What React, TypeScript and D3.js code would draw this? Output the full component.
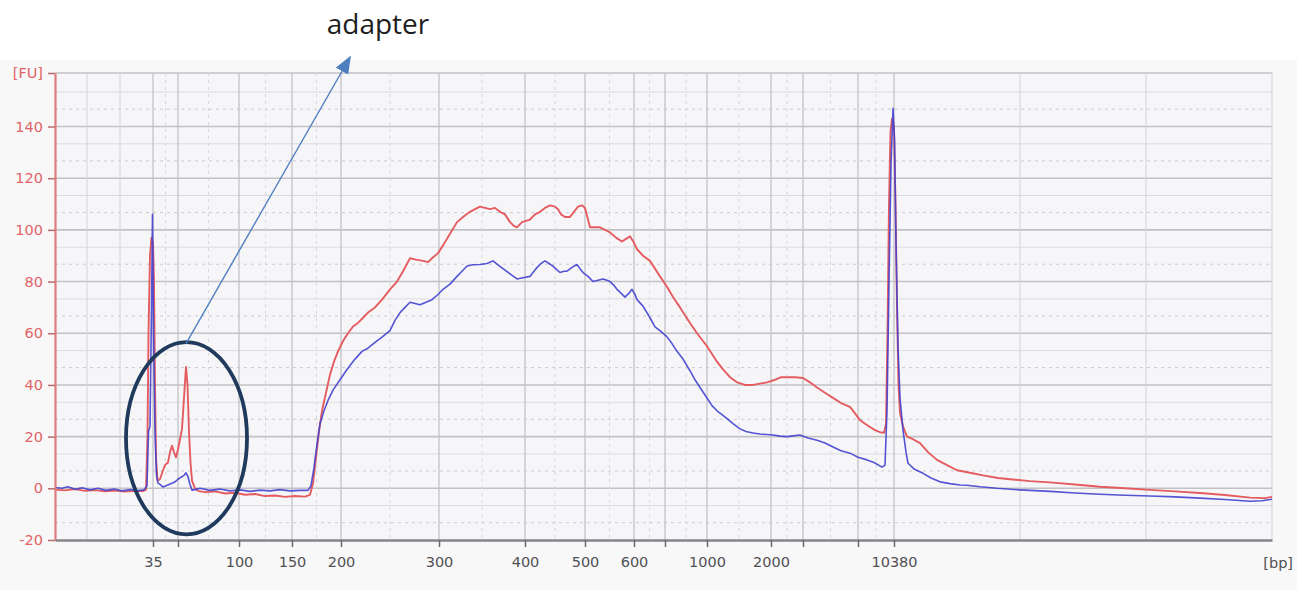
import React, { useEffect, useRef } from 'react';
import * as d3 from 'd3';

// migration time (s) vs fluorescence (FU)
const sample1: [number, number][] = [
  [17.5, -0.5], [18.5, -0.8], [19.5, -0.3], [20.5, -1.0], [21.5, -0.7], [22.5, -1.2], [23.5, -0.9],
  [24.5, -1.3], [25.5, -1.0], [26.3, -1.1], [26.6, -0.5], [26.75, 20], [26.85, 60], [27.0, 90],
  [27.15, 97], [27.3, 95], [27.4, 80], [27.5, 40], [27.6, 12], [27.75, 3], [28.0, 3.5], [28.3, 7], [28.5, 9],
  [28.8, 10], [29.0, 14], [29.2, 16.5], [29.4, 14], [29.6, 12], [29.8, 15], [30.0, 19], [30.2, 23],
  [30.4, 35], [30.6, 47], [30.75, 40], [30.9, 22], [31.05, 10], [31.2, 3], [31.5, 0], [31.8, -1],
  [32.5, -1.5], [33.5, -1.2], [34.5, -2], [35.5, -1.7], [36.5, -2.5], [37.5, -2.2], [38.5, -3],
  [39.5, -2.8], [40.5, -3.3], [41.5, -3], [42.5, -3.2], [43.0, -2.5], [43.3, 2], [43.6, 12],
  [43.9, 22], [44.2, 30], [44.6, 37], [45.0, 44], [45.4, 49], [45.8, 53], [46.3, 57], [46.8, 60],
  [47.3, 62.6], [47.8, 64], [48.3, 66], [48.8, 68], [49.5, 70], [50.2, 73], [51.0, 77], [51.7, 80],
  [52.3, 84], [53.0, 89], [53.6, 88.5], [54.3, 88], [54.8, 87.5], [55.2, 89], [55.8, 91], [56.3, 94],
  [57.0, 98.5], [57.7, 103], [58.3, 105], [59.0, 107], [59.5, 108], [60.0, 109], [60.5, 108.5],
  [61.0, 108], [61.5, 108.5], [62.0, 107], [62.5, 106], [63.0, 103], [63.4, 101.5], [63.7, 101],
  [64.2, 103], [64.6, 103.5], [65.0, 104], [65.5, 106], [66.0, 107], [66.5, 108.5], [67.0, 109.5],
  [67.5, 109], [67.8, 108], [68.1, 106], [68.5, 105], [69.0, 105], [69.4, 107], [69.8, 109],
  [70.2, 109.5], [70.5, 108.5], [70.8, 104], [71.0, 101], [71.5, 101], [72.0, 101], [72.5, 100],
  [73.0, 99], [73.6, 97], [74.2, 95.5], [74.6, 96.5], [75.0, 97.5], [75.4, 95], [75.7, 92.5],
  [76.3, 90], [77.0, 88], [77.5, 85], [78.0, 82], [78.7, 78], [79.3, 74], [80.0, 70], [80.5, 67],
  [81.0, 64], [81.7, 60], [82.3, 57], [82.7, 55], [83.2, 52], [83.7, 49], [84.3, 46], [85.0, 43],
  [85.7, 41], [86.5, 40], [87.3, 40], [88.0, 40.5], [88.7, 41], [89.5, 42], [90.1, 43], [90.7, 43],
  [91.5, 43], [92.3, 42.7], [93.0, 41], [93.7, 39], [94.5, 37], [95.3, 35], [96.1, 33], [97.0, 31.5],
  [97.5, 29], [98.0, 26.4], [98.5, 25], [99.0, 23.7], [99.5, 22.5], [100.0, 21.7], [100.4, 21.5],
  [100.6, 25], [100.75, 60], [100.9, 110], [101.05, 138], [101.2, 143], [101.4, 140], [101.55, 110],
  [101.7, 70], [101.85, 40], [102.0, 29], [102.3, 24], [102.7, 20], [103.3, 19], [104.0, 17.5], [104.8, 14],
  [105.7, 11], [106.7, 9], [107.7, 7], [109.0, 6], [110.3, 5], [111.8, 4], [113.0, 3.5], [115.0, 2.8],
  [117.0, 2.3], [119.5, 1.5], [122.0, 0.6], [124.5, 0], [127.0, -0.6], [129.5, -1.2], [132.0, -1.8],
  [134.5, -2.6], [137.0, -3.6], [138.5, -3.8], [139.2, -3.3],
];

const sample2: [number, number][] = [
  [17.5, 0.3], [18.2, 0], [18.8, 0.6], [19.5, -0.4], [20.2, 0.2], [21.0, -0.6], [21.8, 0], [22.6, -0.8],
  [23.4, -0.3], [24.2, -1], [25.0, -0.5], [25.8, -0.9], [26.4, -0.6], [26.7, 1], [26.85, 22], [27.0, 24],
  [27.15, 70], [27.25, 106], [27.35, 60], [27.5, 22], [27.65, 5], [27.8, 2], [28.0, 1.5], [28.3, 0.5],
  [28.6, 1], [28.9, 1.5], [29.2, 2], [29.5, 2.5], [29.8, 3.5], [30.1, 4.3], [30.4, 5], [30.6, 6],
  [30.8, 4.5], [31.0, 1.5], [31.2, -0.7], [31.5, -0.5], [32.0, 0], [33.0, -0.8], [34.0, -0.3], [35.0, -1],
  [36.0, -0.6], [37.0, -1.2], [38.0, -0.7], [39.0, -1], [40.0, -0.5], [41.0, -1], [42.0, -0.8],
  [42.8, -0.8], [43.1, 1], [43.4, 8], [43.7, 17], [44.0, 25], [44.4, 30], [44.8, 34], [45.3, 38],
  [46.0, 42], [46.7, 46], [47.5, 50], [48.2, 53], [48.7, 54], [49.5, 56.5], [50.2, 58.5], [51.0, 61],
  [51.5, 65], [52.0, 68], [52.5, 70], [53.0, 72], [53.5, 71.5], [54.0, 71], [54.6, 72], [55.2, 73],
  [55.8, 75], [56.3, 77], [57.0, 79], [57.7, 82], [58.2, 84], [58.7, 86], [59.3, 86.5], [60.0, 86.6],
  [60.7, 87], [61.3, 88], [61.8, 86.5], [62.3, 85], [63.0, 83], [63.7, 81], [64.3, 81.5], [65.0, 82],
  [65.4, 84], [65.7, 85.4], [66.1, 87], [66.5, 88], [66.9, 87], [67.3, 86], [67.7, 84.5], [68.0, 83.5],
  [68.4, 84], [68.7, 84], [69.2, 85.5], [69.7, 86.6], [70.0, 85], [70.3, 83.5], [70.8, 82], [71.3, 80],
  [71.8, 80.5], [72.3, 81], [72.7, 80.5], [73.0, 80], [73.4, 78.5], [73.7, 77], [74.1, 75.5],
  [74.5, 74], [74.9, 75.5], [75.2, 77], [75.5, 75], [75.7, 73], [76.3, 70.5], [77.0, 66], [77.5, 62.5],
  [78.0, 61], [78.7, 58.6], [79.2, 56], [79.7, 53], [80.3, 50], [81.0, 45.5], [81.5, 42], [82.0, 39],
  [82.6, 35.5], [83.2, 32], [83.7, 30], [84.2, 28.5], [84.7, 27], [85.3, 25], [86.0, 23], [86.6, 22],
  [87.3, 21.4], [88.0, 21], [88.7, 20.8], [89.3, 20.6], [90.0, 20.2], [90.7, 20], [91.3, 20.3],
  [92.0, 20.6], [92.8, 19.5], [93.7, 18.6], [94.5, 17.5], [95.3, 16], [96.1, 14.5], [97.0, 13.6],
  [97.8, 12], [98.7, 11], [99.4, 10], [100.2, 8.2], [100.5, 9], [100.7, 30], [100.9, 80], [101.1, 125],
  [101.3, 147], [101.45, 135], [101.6, 95], [101.8, 55], [102.0, 35], [102.3, 22.5], [102.6, 14],
  [102.8, 9.7], [103.4, 7.5], [104.3, 5.8], [105.1, 4], [106.0, 2.5], [107.0, 1.8], [108.0, 1.3],
  [108.7, 1.2], [110.0, 0.6], [111.7, 0], [114.0, -0.6], [117.0, -1.2], [119.5, -1.8], [122.0, -2.3],
  [124.5, -2.7], [127.0, -3], [129.5, -3.3], [132.0, -3.8], [134.5, -4.3], [137.0, -5], [138.2, -4.8],
  [139.2, -4.2],
];

// ladder: migration time of each size marker and its axis label
const ladderTime = [27.3, 29.8, 35.9, 41.2, 46.1, 55.9, 64.5, 70.5, 75.4, 78.5, 82.7, 89.1, 92.3, 97.8, 101.4];
const ladderLabel = ['35', '', '100', '150', '200', '300', '400', '500', '600', '', '1000', '2000', '', '', '10380'];
const extraGridTime = [20.7, 24.0, 114.0, 126.6];

const timeDomain: [number, number] = [17.5, 139.2];
const fuDomain: [number, number] = [-20, 160.7];
const fuTicks = [-20, 0, 20, 40, 60, 80, 100, 120, 140];

// adapter annotation (time, FU)
const adapterCenter = [30.65, 19.4];
const adapterRadius = [6.05, 37.2];
const arrowFrom = [30.6, 56];
const arrowTo = [47, 166.8];

const WIDTH = 1297;
const HEIGHT = 590;
const margin = { top: 73, right: 25, bottom: 50, left: 55 };

export default function App() {
  const svgRef = useRef<SVGSVGElement>(null);

  useEffect(() => {
    const svg = d3.select(svgRef.current);
    svg.selectAll('*').remove();

    const x = d3.scaleLinear().domain(timeDomain).range([margin.left, WIDTH - margin.right]);
    const y = d3.scaleLinear().domain(fuDomain).range([HEIGHT - margin.bottom, margin.top]);
    const [x0, x1] = x.range();
    const [y0, y1] = y.range();

    svg.append('rect').attr('width', WIDTH).attr('height', HEIGHT).attr('fill', '#ffffff');
    svg.append('rect').attr('x', 0).attr('y', 60).attr('width', WIDTH).attr('height', HEIGHT - 60).attr('fill', '#f8f8f8');
    svg.append('rect').attr('x', x0).attr('y', y1).attr('width', x1 - x0).attr('height', y0 - y1).attr('fill', '#f6f6f9');

    // grid
    const grid = svg.append('g');
    const dashed = d3.range(-20, 160, 20).map(v => v + 6.7);
    const light = d3.range(-20, 160, 20).map(v => v + 13.3);
    grid.selectAll('.hd').data(dashed.filter(v => v < fuDomain[1])).join('line')
      .attr('x1', x0).attr('x2', x1).attr('y1', d => y(d)).attr('y2', d => y(d))
      .attr('stroke', '#cbcbd0').attr('stroke-dasharray', '3,4');
    grid.selectAll('.hl').data(light.filter(v => v < fuDomain[1])).join('line')
      .attr('x1', x0).attr('x2', x1).attr('y1', d => y(d)).attr('y2', d => y(d))
      .attr('stroke', '#dcdce0');
    grid.selectAll('.hm').data([...fuTicks.slice(1), fuDomain[1]]).join('line')
      .attr('x1', x0).attr('x2', x1).attr('y1', d => y(d)).attr('y2', d => y(d))
      .attr('stroke', '#c2c2c6').attr('stroke-width', 1.6);

    const mids = ladderTime.slice(1).map((t, i) => (t + ladderTime[i]) / 2);
    grid.append('g').selectAll('line').data(mids).join('line')
      .attr('x1', d => x(d)).attr('x2', d => x(d)).attr('y1', y1).attr('y2', y0)
      .attr('stroke', '#d8d8dc').attr('stroke-dasharray', '3,4');
    grid.append('g').selectAll('line').data(extraGridTime).join('line')
      .attr('x1', d => x(d)).attr('x2', d => x(d)).attr('y1', y1).attr('y2', y0)
      .attr('stroke', '#d4d4d8');
    grid.append('g').selectAll('line').data(ladderTime).join('line')
      .attr('x1', d => x(d)).attr('x2', d => x(d)).attr('y1', y1).attr('y2', y0)
      .attr('stroke', '#c2c2c8').attr('stroke-width', 1.3);
    grid.append('line').attr('x1', x1).attr('x2', x1).attr('y1', y1).attr('y2', y0)
      .attr('stroke', '#d0d0d4');

    // traces
    const trace = d3.line<[number, number]>().x(d => x(d[0])).y(d => y(d[1]));
    svg.append('path').attr('d', trace(sample1)).attr('fill', 'none')
      .attr('stroke', '#e45c60').attr('stroke-width', 1.9).attr('stroke-linejoin', 'round');
    svg.append('path').attr('d', trace(sample2)).attr('fill', 'none')
      .attr('stroke', '#4343cf').attr('stroke-width', 1.6).attr('stroke-linejoin', 'round')
      .attr('opacity', 0.9);

    // axes
    const yAxis = d3.axisLeft(y)
      .tickValues([...fuTicks, fuDomain[1]])
      .tickFormat(d => (d === fuDomain[1] ? '[FU]' : String(d)))
      .tickSize(7).tickPadding(5).tickSizeOuter(0);
    const ya = svg.append('g').attr('transform', `translate(${x0},0)`).call(yAxis);
    ya.select('.domain').attr('stroke', '#e07c80').attr('stroke-width', 2.2);
    ya.selectAll('.tick line').attr('stroke', '#b86a6e').attr('stroke-width', 1.5);
    ya.selectAll('.tick text').attr('fill', '#e06468').style('font-size', '14.5px')
      .style('font-family', '"DejaVu Sans", sans-serif');

    const xAxis = d3.axisBottom(x)
      .tickValues(ladderTime)
      .tickFormat((_d, i) => ladderLabel[i])
      .tickSize(7).tickPadding(10).tickSizeOuter(0);
    const xa = svg.append('g').attr('transform', `translate(0,${y0})`).call(xAxis);
    xa.select('.domain').attr('stroke', '#86868a').attr('stroke-width', 2.6);
    xa.selectAll('.tick line').attr('stroke', '#6a6a6e').attr('stroke-width', 1.5);
    xa.selectAll('.tick text').attr('fill', '#505054').style('font-size', '14.5px')
      .style('font-family', '"DejaVu Sans", sans-serif');
    svg.append('text').attr('x', 1293).attr('y', 568).attr('text-anchor', 'end')
      .attr('fill', '#505054').style('font-size', '14.5px').style('font-family', '"DejaVu Sans", sans-serif')
      .text('[bp]');

    // adapter annotation
    svg.append('ellipse')
      .attr('cx', x(adapterCenter[0])).attr('cy', y(adapterCenter[1]))
      .attr('rx', x(adapterCenter[0] + adapterRadius[0]) - x(adapterCenter[0]))
      .attr('ry', y(adapterCenter[1]) - y(adapterCenter[1] + adapterRadius[1]))
      .attr('fill', 'none').attr('stroke', '#1f3a5c').attr('stroke-width', 3.8);

    svg.append('defs').append('marker')
      .attr('id', 'arrowHead').attr('viewBox', '0 0 18 14')
      .attr('refX', 16).attr('refY', 7)
      .attr('markerWidth', 18).attr('markerHeight', 14)
      .attr('markerUnits', 'userSpaceOnUse').attr('orient', 'auto')
      .append('path').attr('d', 'M0,0 L18,7 L0,14 Z').attr('fill', '#4f7fbf');
    svg.append('line')
      .attr('x1', x(arrowFrom[0])).attr('y1', y(arrowFrom[1]))
      .attr('x2', x(arrowTo[0])).attr('y2', y(arrowTo[1]))
      .attr('stroke', '#4f7fbf').attr('stroke-width', 1.4)
      .attr('marker-end', 'url(#arrowHead)');

    svg.append('text').attr('x', 378).attr('y', 34).attr('text-anchor', 'middle')
      .attr('fill', '#1e1e1e').style('font-size', '28px')
      .style('font-family', '"Open Sans", sans-serif')
      .text('adapter');
  }, []);

  return (
    <svg
      ref={svgRef}
      width={WIDTH}
      height={HEIGHT}
      style={{ position: 'absolute', left: 0, top: 0 }}
    />
  );
}
